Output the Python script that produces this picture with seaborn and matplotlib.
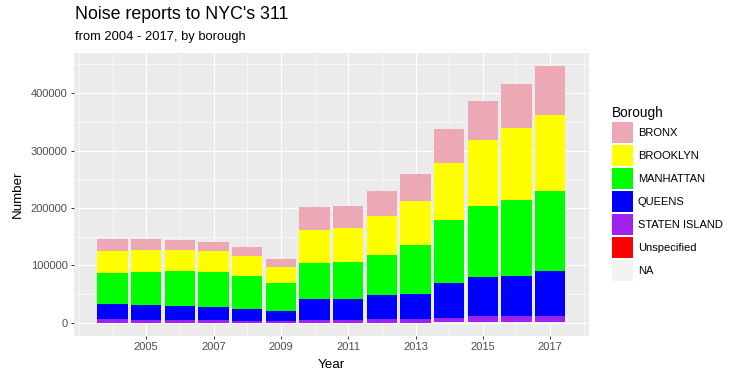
import numpy as np
import pandas as pd
import seaborn as sns
import matplotlib.pyplot as plt
from matplotlib.patches import Patch
from matplotlib.ticker import FixedLocator

years = list(range(2004, 2018))
boroughs = ["BRONX", "BROOKLYN", "MANHATTAN", "QUEENS", "STATEN ISLAND", "Unspecified", "NA"]
colors = ["#EDA8B6", "#FFFF00", "#00FF00", "#0000FF", "#A020F0", "#FF0000", "#F2F2F2"]

bronx = [20900, 18600, 16800, 15700, 15600, 13900, 40000, 38300, 43500, 46900, 59100, 67800, 76600, 85300]
brooklyn = [37700, 38300, 36600, 36000, 34800, 27800, 56900, 59100, 67800, 76600, 99200, 114800, 125200, 132100]
manhattan = [54000, 57900, 61400, 61400, 56800, 48700, 62600, 64400, 69600, 85200, 109500, 123500, 132200, 139200]
queens = [26000, 25600, 23800, 22100, 20900, 16800, 36500, 36500, 41700, 43400, 60900, 67800, 69500, 78200]
staten_island = [7000, 5200, 5200, 5200, 3500, 3500, 5200, 5200, 7000, 7000, 7000, 10500, 10500, 10500]
unspecified = [0, 0, 0, 0, 0, 0, 0, 0, 0, 0, 0, 0, 0, 0]
na_borough = [0, 0, 0, 0, 0, 0, 0, 0, 0, 0, 1700, 1700, 1700, 1700]

series = [bronx, brooklyn, manhattan, queens, staten_island, unspecified, na_borough]
df = pd.DataFrame({
    "Year": np.tile(years, len(boroughs)),
    "Borough": np.repeat(boroughs, len(years)),
    "Number": np.concatenate(series),
})

plt.rcParams["font.family"] = ["Liberation Sans", "DejaVu Sans"]

fig = plt.figure(figsize=(7.43, 3.76), dpi=100)
ax = fig.add_axes([74 / 743, 1 - 335.7 / 376, 514.7 / 743, 282.4 / 376])
ax.set_facecolor("#EBEBEB")

sns.histplot(data=df, x="Year", weights="Number", hue="Borough", hue_order=boroughs,
             palette=dict(zip(boroughs, colors)), multiple="stack", discrete=True,
             shrink=0.9, alpha=1, linewidth=0, legend=False, ax=ax)

ax.set_xlim(2002.855, 2018.145)
ax.set_ylim(-22350, 469350)
ax.set_xticks(range(2005, 2018, 2))
ax.xaxis.set_minor_locator(FixedLocator([2003, 2004, 2006, 2008, 2010, 2012, 2014, 2016, 2018]))
ax.set_yticks(range(0, 400001, 100000))
ax.set_yticklabels([str(v) for v in range(0, 400001, 100000)])
ax.yaxis.set_minor_locator(FixedLocator(range(50000, 450001, 100000)))
ax.set_axisbelow(True)
ax.grid(which="major", color="white", linewidth=0.85)
ax.grid(which="minor", color="white", linewidth=0.4)
for s in ax.spines.values():
    s.set_visible(False)
ax.tick_params(which="major", length=2.5, width=0.7, color="#333333", labelsize=8,
               labelcolor="#4D4D4D", pad=2)
ax.tick_params(which="minor", length=0)

ax.set_xlabel("Year", fontsize=9.6, labelpad=5)
ax.set_ylabel("Number", fontsize=9.6, labelpad=5)

fig.text(75 / 743, 1 - 6 / 376, "Noise reports to NYC's 311", fontsize=12.8, va="top", ha="left")
fig.text(75 / 743, 1 - 31 / 376, "from 2004 - 2017, by borough", fontsize=9.3, va="top", ha="left")

handles = [Patch(facecolor=c, edgecolor="none") for c in colors]
leg = fig.legend(handles, boroughs, loc="upper left", bbox_to_anchor=(612 / 743, 1 - 106 / 376),
                 title="Borough", frameon=False, fontsize=8, title_fontsize=9.8,
                 handlelength=1.89, handleheight=2.53, labelspacing=0.18, handletextpad=0.45,
                 borderaxespad=0, borderpad=0)
leg._legend_box.align = "left"

fig.savefig("out.png", dpi=100)
